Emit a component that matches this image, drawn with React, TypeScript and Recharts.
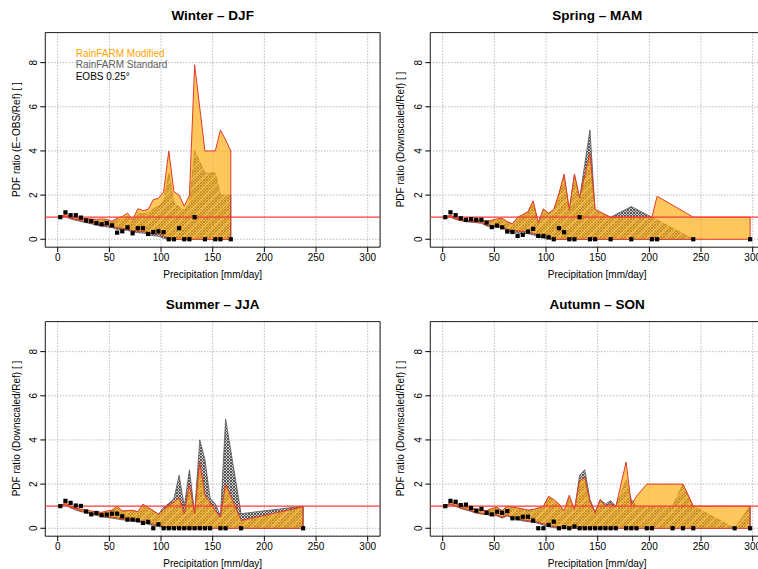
import {
  ComposedChart,
  Area,
  Scatter,
  XAxis,
  YAxis,
  CartesianGrid,
  ReferenceLine,
  ReferenceArea,
} from 'recharts';

const FONT = '"Liberation Sans", Arial, Helvetica, sans-serif';

const X_TICKS = [0, 50, 100, 150, 200, 250, 300];
const Y_TICKS = [0, 2, 4, 6, 8];

// Winter – DJF
const DJF_X = [2.5, 7.5, 12.5, 17.5, 22.5, 27.5, 32.5, 37.5, 42.5, 47.5, 52.5, 57.5, 62.5, 67.5, 72.5, 77.5, 82.5, 87.5, 92.5, 97.5, 102.5, 107.5, 112.5, 117.5, 122.5, 127.5, 132.5, 137.5, 142.5, 147.5, 152.5, 157.5, 162.5, 167.5];
const DJF_MOD_HI = [1.0, 1.15, 1.0, 0.98, 0.95, 0.93, 0.92, 0.9, 0.92, 0.9, 0.82, 0.95, 1.03, 1.18, 0.88, 1.38, 1.3, 1.35, 1.8, 1.85, 2.15, 4.0, 2.15, 2.0, 1.5, 2.0, 7.9, 5.95, 4.0, 4.0, 4.0, 4.95, 4.5, 4.0];
const DJF_MOD_LO = [1.0, 1.05, 0.95, 0.9, 0.85, 0.8, 0.75, 0.7, 0.66, 0.63, 0.6, 0.52, 0.5, 0.45, 0.4, 0.37, 0.35, 0.3, 0.25, 0.25, 0.15, 0.04, 0, 0, 0, 0, 0, 0, 0, 0, 0, 0, 0, 0];
const DJF_STD_HI = [1.0, 1.1, 0.97, 0.95, 0.92, 0.9, 0.88, 0.86, 0.86, 0.85, 0.78, 0.88, 0.92, 1.05, 0.84, 1.2, 1.15, 1.2, 1.4, 1.5, 1.7, 3.0, 1.65, 1.45, 1.3, 1.6, 4.0, 3.5, 3.0, 3.0, 3.0, 2.0, 2.0, 2.0];
const DJF_STD_LO = [1.0, 1.02, 0.92, 0.86, 0.8, 0.75, 0.7, 0.64, 0.6, 0.56, 0.53, 0.45, 0.43, 0.4, 0.34, 0.3, 0.28, 0.22, 0.16, 0.14, 0.04, 0, 0, 0, 0, 0, 0, 0, 0, 0, 0, 0, 0, 0];
const DJF_EOBS = [1.0, 1.22, 1.09, 1.09, 0.98, 0.85, 0.82, 0.73, 0.68, 0.73, 0.63, 0.3, 0.36, 0.54, 0.27, 0.5, 0.5, 0.24, 0.33, 0.36, 0.32, 0, 0, 0.5, 0, 0, 1.0, null, 0, null, 0, 0, null, 0];

// Spring – MAM
const MAM_X = [2.5, 7.5, 12.5, 17.5, 22.5, 27.5, 32.5, 37.5, 42.5, 47.5, 52.5, 57.5, 62.5, 67.5, 72.5, 77.5, 82.5, 87.5, 92.5, 97.5, 102.5, 107.5, 112.5, 117.5, 122.5, 127.5, 132.5, 137.5, 142.5, 147.5, 162.5, 182.5, 202.5, 207.5, 242.5, 297.5];
const MAM_MOD_HI = [1.0, 1.09, 0.98, 0.92, 0.88, 0.87, 0.87, 0.88, 0.8, 0.86, 0.92, 0.95, 0.8, 0.7, 1.0, 1.12, 1.25, 1.74, 0.74, 1.37, 1.18, 1.35, 2.08, 2.95, 1.35, 2.95, 1.88, 2.9, 3.9, 1.35, 1.0, 1.0, 1.0, 1.95, 1.0, 1.0];
const MAM_MOD_LO = [1.0, 1.02, 0.92, 0.86, 0.82, 0.8, 0.78, 0.76, 0.66, 0.62, 0.6, 0.58, 0.45, 0.4, 0.38, 0.36, 0.33, 0.27, 0.18, 0.12, 0.06, 0, 0, 0, 0, 0, 0, 0, 0, 0, 0, 0, 0, 0, 0, 0];
const MAM_STD_HI = [1.0, 1.07, 0.96, 0.9, 0.86, 0.85, 0.85, 0.85, 0.78, 0.84, 0.88, 0.9, 0.76, 0.68, 0.95, 1.08, 1.22, 1.7, 0.72, 1.35, 1.15, 1.3, 2.0, 2.85, 1.3, 2.9, 1.85, 3.4, 4.95, 1.3, 1.0, 1.48, 1.0, 0.87, 0, null];
const MAM_STD_LO = [1.0, 1.0, 0.9, 0.84, 0.79, 0.77, 0.75, 0.72, 0.6, 0.55, 0.56, 0.52, 0.38, 0.3, 0.28, 0.26, 0.25, 0.2, 0.1, 0.05, 0, 0, 0, 0, 0, 0, 0, 0, 0, 0, 0, 0, 0, 0, 0, null];
const MAM_EOBS = [1.0, 1.22, 1.09, 0.95, 0.88, 0.91, 0.88, 0.88, 0.76, 0.55, 0.62, 0.54, 0.35, 0.33, 0.15, 0.2, 0.35, 0.47, 0.15, 0.15, 0.09, 0, 0.5, 0.32, 0, 0, 1.0, null, 0, 0, 0, 0, 0, 0, 0, 0];

// Summer – JJA
const JJA_X = [2.5, 7.5, 12.5, 17.5, 22.5, 27.5, 32.5, 37.5, 42.5, 47.5, 52.5, 57.5, 62.5, 67.5, 72.5, 77.5, 82.5, 87.5, 92.5, 97.5, 102.5, 107.5, 112.5, 117.5, 122.5, 127.5, 132.5, 137.5, 142.5, 147.5, 152.5, 157.5, 162.5, 177.5, 237.5];
const JJA_MOD_HI = [1.0, 1.16, 1.0, 0.92, 0.86, 0.82, 0.78, 0.74, 0.72, 0.78, 0.82, 1.0, 0.78, 0.8, 0.82, 0.74, 1.09, 0.94, 0.8, 0.63, 0.85, 1.04, 1.2, 1.38, 0.65, 2.0, 0.65, 3.0, 1.5, 1.15, 0.8, 0.5, 2.0, 0.35, 0.97];
const JJA_MOD_LO = [1.0, 1.08, 0.95, 0.86, 0.78, 0.74, 0.68, 0.62, 0.57, 0.52, 0.5, 0.46, 0.42, 0.4, 0.37, 0.35, 0.3, 0.23, 0.18, 0.14, 0.08, 0.02, 0, 0, 0, 0, 0, 0, 0, 0, 0, 0, 0, 0, 0];
const JJA_STD_HI = [1.0, 1.14, 0.98, 0.9, 0.85, 0.8, 0.76, 0.73, 0.7, 0.75, 0.8, 0.92, 0.78, 0.78, 0.8, 0.74, 1.0, 0.9, 0.78, 0.63, 0.95, 1.12, 1.34, 2.4, 1.0, 2.65, 0.7, 4.0, 3.1, 1.35, 1.1, 0.55, 4.95, 0.66, 1.0];
const JJA_STD_LO = [1.0, 1.05, 0.92, 0.83, 0.75, 0.7, 0.64, 0.58, 0.53, 0.48, 0.46, 0.42, 0.38, 0.36, 0.33, 0.3, 0.25, 0.18, 0.12, 0.08, 0.03, 0, 0, 0, 0, 0, 0, 0, 0, 0, 0, 0, 0, 0, 0];
const JJA_EOBS = [1.0, 1.24, 1.15, 1.03, 1.01, 0.76, 0.63, 0.69, 0.59, 0.62, 0.66, 0.66, 0.54, 0.39, 0.39, 0.36, 0.24, 0.29, 0, 0.18, 0, 0, 0, 0, 0, 0, 0, 0, 0, 0, null, 0, 0, 0, 0];

// Autumn – SON
const SON_X = [2.5, 7.5, 12.5, 17.5, 22.5, 27.5, 32.5, 37.5, 42.5, 47.5, 52.5, 57.5, 62.5, 67.5, 72.5, 77.5, 82.5, 87.5, 92.5, 97.5, 102.5, 107.5, 112.5, 117.5, 122.5, 127.5, 132.5, 137.5, 142.5, 147.5, 152.5, 157.5, 162.5, 167.5, 177.5, 182.5, 187.5, 197.5, 202.5, 222.5, 232.5, 242.5, 282.5, 297.5];
const SON_MOD_HI = [1.0, 1.18, 1.12, 1.05, 0.95, 0.9, 0.85, 0.82, 0.8, 0.9, 0.95, 0.8, 1.0, 0.97, 0.92, 0.88, 0.82, 0.85, 0.92, 1.0, 1.45, 1.3, 1.1, 0.8, 1.5, 0.85, 2.15, 2.3, 1.2, 0.7, 1.3, 1.0, 1.1, 0.97, 3.0, 1.05, 1.45, 2.0, 2.0, 2.0, 2.0, 1.0, 1.0, 1.0];
const SON_MOD_LO = [1.0, 1.1, 1.02, 0.92, 0.86, 0.8, 0.72, 0.68, 0.66, 0.62, 0.6, 0.5, 0.6, 0.5, 0.45, 0.38, 0.35, 0.32, 0.28, 0.2, 0.12, 0.08, 0.02, 0, 0, 0, 0, 0, 0, 0, 0, 0, 0, 0, 0, 0, 0, 0, 0, 0, 0, 0, 0, 0];
const SON_STD_HI = [1.0, 1.16, 1.1, 1.02, 0.93, 0.88, 0.82, 0.8, 0.78, 0.86, 0.92, 0.78, 0.96, 0.95, 0.9, 0.85, 0.8, 0.82, 0.9, 0.98, 1.4, 1.25, 1.05, 0.75, 1.4, 0.8, 2.4, 2.65, 1.3, 0.75, 1.3, 1.1, 1.25, 1.0, 2.2, 1.3, 1.0, 1.0, 1.0, 1.0, 2.0, 1.0, 0, 1.0];
const SON_STD_LO = [1.0, 1.07, 0.99, 0.89, 0.83, 0.76, 0.68, 0.64, 0.62, 0.58, 0.56, 0.46, 0.56, 0.46, 0.4, 0.33, 0.3, 0.27, 0.22, 0.14, 0.07, 0.03, 0, 0, 0, 0, 0, 0, 0, 0, 0, 0, 0, 0, 0, 0, 0, 0, 0, 0, 0, 0, 0, 0];
const SON_EOBS = [1.0, 1.24, 1.2, 1.05, 1.07, 0.92, 0.8, 0.88, 0.7, 0.63, 0.75, 0.7, 0.78, 0.45, 0.45, 0.52, 0.52, 0.35, 0, 0, 0.15, 0.3, 0, 0.05, 0, 0.08, 0, 0, 0, 0, 0, 0, 0, 0, 0, 0, 0, 0, 0, 0, 0, 0, 0, 0];

const LEGEND = [
  { label: 'RainFARM Modified', color: '#ffa500' },
  { label: 'RainFARM Standard', color: '#616161' },
  { label: 'EOBS 0.25°', color: '#000000' },
];

const SEASONS = [
  { id: 'djf', title: 'Winter – DJF', yLabel: 'PDF ratio (E−OBS/Ref) [ ]', x: DJF_X, modHi: DJF_MOD_HI, modLo: DJF_MOD_LO, stdHi: DJF_STD_HI, stdLo: DJF_STD_LO, eobs: DJF_EOBS, col: 0, row: 0, legend: true },
  { id: 'mam', title: 'Spring – MAM', yLabel: 'PDF ratio (Downscaled/Ref) [ ]', x: MAM_X, modHi: MAM_MOD_HI, modLo: MAM_MOD_LO, stdHi: MAM_STD_HI, stdLo: MAM_STD_LO, eobs: MAM_EOBS, col: 1, row: 0, legend: false },
  { id: 'jja', title: 'Summer – JJA', yLabel: 'PDF ratio (Downscaled/Ref) [ ]', x: JJA_X, modHi: JJA_MOD_HI, modLo: JJA_MOD_LO, stdHi: JJA_STD_HI, stdLo: JJA_STD_LO, eobs: JJA_EOBS, col: 0, row: 1, legend: false },
  { id: 'son', title: 'Autumn – SON', yLabel: 'PDF ratio (Downscaled/Ref) [ ]', x: SON_X, modHi: SON_MOD_HI, modLo: SON_MOD_LO, stdHi: SON_STD_HI, stdLo: SON_STD_LO, eobs: SON_EOBS, col: 1, row: 1, legend: false },
];

const PANEL_W = 384.5;
const PANEL_H = 289;
const PLOT_LEFT = 45.3;
const PLOT_TOP = 32.6;
const PLOT_RIGHT = 380.1;
const PLOT_BOTTOM = 247.2;

type Season = (typeof SEASONS)[number];

function YTick(props: any) {
  const { x, y, payload } = props;
  const bx = x - 1;
  return (
    <text x={bx} y={y} transform={`rotate(-90 ${bx} ${y})`} textAnchor="middle" fontSize={10} fontFamily={FONT} fill="#000">
      {payload.value}
    </text>
  );
}

function Square(props: any) {
  const { cx, cy } = props;
  if (cx == null || cy == null) return null;
  return <rect x={cx - 2.1} y={cy - 2.1} width={4.2} height={4.2} fill="#000" />;
}

function lastIndex(arr: (number | null)[]) {
  for (let i = arr.length - 1; i >= 0; i--) if (arr[i] != null) return i;
  return -1;
}

function Panel({ s }: { s: Season }) {
  const rows = s.x.map((x, i) => ({
    x,
    mod: s.modHi[i] == null ? null : [s.modLo[i], s.modHi[i]],
    std: s.stdHi[i] == null ? null : [s.stdLo[i], s.stdHi[i]],
  }));
  const points = s.x.map((x, i) => ({ x, eobs: s.eobs[i] })).filter((p) => p.eobs != null);
  const mi = lastIndex(s.modHi);
  const si = lastIndex(s.stdHi);
  const plotW = PLOT_RIGHT - PLOT_LEFT;
  const plotH = PLOT_BOTTOM - PLOT_TOP;

  return (
    <div style={{ position: 'absolute', left: s.col * PANEL_W, top: s.row * PANEL_H, width: PANEL_W, height: PANEL_H }}>
      <ComposedChart
        width={PANEL_W}
        height={PANEL_H}
        data={rows}
        margin={{ top: PLOT_TOP, right: PANEL_W - PLOT_RIGHT, bottom: 0, left: 0 }}
      >
        <defs>
          <pattern id={`gray-${s.id}`} patternUnits="userSpaceOnUse" width="3" height="3">
            <rect width="3" height="3" fill="#cccccc" />
            <path d="M0,0 L3,3 M3,0 L0,3" stroke="#444444" strokeWidth="0.85" />
          </pattern>
          <pattern id={`orange-${s.id}`} patternUnits="userSpaceOnUse" width="7" height="7" patternTransform="rotate(45)">
            <rect width="7" height="7" fill="rgba(255,168,10,0.66)" />
            <line x1="3.5" y1="0" x2="3.5" y2="7" stroke="rgba(255,204,80,0.7)" strokeWidth="1.4" />
          </pattern>
        </defs>
        <CartesianGrid stroke="#9a9a9a" strokeDasharray="1 2" />
        <XAxis
          dataKey="x"
          type="number"
          domain={[-12, 312]}
          ticks={X_TICKS}
          allowDataOverflow
          interval={0}
          height={PANEL_H - PLOT_BOTTOM}
          tickSize={5}
          axisLine={false}
          tickLine={{ stroke: '#000' }}
          tick={{ fontSize: 10, fill: '#000', fontFamily: FONT }}
        />
        <YAxis
          type="number"
          domain={[-0.36, 9.36]}
          ticks={Y_TICKS}
          allowDataOverflow
          interval={0}
          width={PLOT_LEFT}
          tickSize={5}
          axisLine={false}
          tickLine={{ stroke: '#000' }}
          tick={<YTick />}
        />
        <Area
          dataKey="std"
          type="linear"
          connectNulls
          fill={`url(#gray-${s.id})`}
          fillOpacity={1}
          stroke="#555555"
          strokeWidth={0.8}
          isAnimationActive={false}
        />
        <Area
          dataKey="mod"
          type="linear"
          connectNulls
          fill={`url(#orange-${s.id})`}
          fillOpacity={1}
          stroke="#e03a2a"
          strokeWidth={1}
          isAnimationActive={false}
        />
        <ReferenceLine
          segment={[{ x: s.x[si], y: s.stdLo[si] }, { x: s.x[si], y: s.stdHi[si] }]}
          stroke="#555555"
          strokeWidth={0.8}
        />
        <ReferenceLine
          segment={[{ x: s.x[mi], y: s.modLo[mi] }, { x: s.x[mi], y: s.modHi[mi] }]}
          stroke="#e03a2a"
          strokeWidth={1}
        />
        <ReferenceLine y={1} stroke="#ff3a3a" strokeWidth={1.4} />
        <Scatter data={points} dataKey="eobs" shape={<Square />} isAnimationActive={false} />
        <ReferenceArea x1={-12} x2={312} y1={-0.36} y2={9.36} fill="none" stroke="#222" strokeWidth={1} ifOverflow="visible" />
      </ComposedChart>

      <div
        style={{
          position: 'absolute', left: PLOT_LEFT, width: plotW, top: 7, textAlign: 'center',
          fontFamily: FONT, fontWeight: 'bold', fontSize: 13.5, lineHeight: '18px', color: '#000',
        }}
      >
        {s.title}
      </div>
      <div
        style={{
          position: 'absolute', left: PLOT_LEFT, width: plotW, top: 268, textAlign: 'center',
          fontFamily: FONT, fontSize: 10, lineHeight: '13px', color: '#000',
        }}
      >
        Precipitation [mm/day]
      </div>
      <div
        style={{
          position: 'absolute', left: 16 - plotH / 2, width: plotH, top: (PLOT_TOP + PLOT_BOTTOM) / 2 - 6.5, height: 13,
          textAlign: 'center', fontFamily: FONT, fontSize: 10, lineHeight: '13px', color: '#000',
          transform: 'rotate(-90deg)', whiteSpace: 'nowrap',
        }}
      >
        {s.yLabel}
      </div>
      {s.legend && (
        <div style={{ position: 'absolute', left: 75.7, top: 47.6, fontFamily: FONT, fontSize: 10, lineHeight: '11.7px' }}>
          {LEGEND.map((l) => (
            <div key={l.label} style={{ color: l.color }}>{l.label}</div>
          ))}
        </div>
      )}
    </div>
  );
}

export default function App() {
  return (
    <div style={{ position: 'absolute', left: 0, top: 0, width: 758, height: 569, overflow: 'hidden', background: '#fff' }}>
      {SEASONS.map((s) => (
        <Panel key={s.id} s={s} />
      ))}
    </div>
  );
}
